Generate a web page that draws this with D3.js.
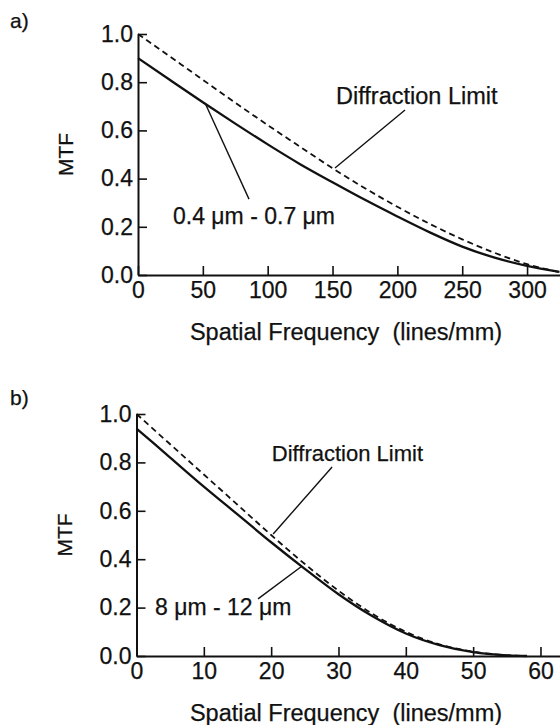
<!DOCTYPE html>
<html>
<head>
<meta charset="utf-8">
<script src="https://cdn.jsdelivr.net/npm/d3@7"></script>
<style>
  body { margin: 0; background: #fff; }
  text { font-family: "Liberation Sans", Arial, Helvetica, sans-serif; fill: #111; stroke: #111; stroke-width: 0.25px; }
</style>
</head>
<body>
<script>
"use strict"

// panel a: visible 0.4 - 0.7 um
var freqA = [0, 25, 50, 75, 100, 125, 150, 175, 200, 225, 250, 275, 300, 325];
var diffA = [1.0, 0.905, 0.81, 0.715, 0.622, 0.532, 0.443, 0.36, 0.283, 0.212, 0.148, 0.092, 0.045, 0.012];
var measA = [0.90, 0.808, 0.717, 0.628, 0.542, 0.46, 0.385, 0.312, 0.243, 0.177, 0.118, 0.072, 0.038, 0.013];
var ticksA = [0, 50, 100, 150, 200, 250, 300];

// panel b: thermal 8 - 12 um
var freqB = [0, 5, 10, 15, 20, 25, 30, 35, 40, 45, 50, 55, 58];
var diffB = [1.0, 0.875, 0.75, 0.625, 0.50, 0.38, 0.27, 0.175, 0.10, 0.048, 0.018, 0.003, 0.0];
var measB = [0.94, 0.82, 0.70, 0.585, 0.47, 0.36, 0.255, 0.165, 0.093, 0.045, 0.016, 0.003, 0.0];
var ticksB = [0, 10, 20, 30, 40, 50, 60];

var mtfTicks = [0, 0.2, 0.4, 0.6, 0.8, 1.0];

var width = 560, height = 725;

var svg = d3.select("body").append("svg")
    .attr("width", width)
    .attr("height", height);

function drawPanel(p) {
    var x = d3.scaleLinear().domain([0, p.xMax]).range([p.left, width]);
    var y = d3.scaleLinear().domain([0, 1]).range([p.bottom, p.top]);
    var g = svg.append("g");

    var xAxis = g.append("g")
        .attr("transform", "translate(0," + p.bottom + ")")
        .call(d3.axisBottom(x).tickValues(p.ticks).tickSize(-9).tickSizeOuter(0).tickPadding(7));
    var yAxis = g.append("g")
        .attr("transform", "translate(" + p.left + ",0)")
        .call(d3.axisLeft(y).tickValues(mtfTicks).tickFormat(d3.format(".1f")).tickSize(-9).tickSizeOuter(0).tickPadding(5));

    [xAxis, yAxis].forEach(function(a) {
        a.select(".domain").attr("stroke", "#111").attr("stroke-width", 2);
        a.selectAll(".tick line").attr("stroke", "#111").attr("stroke-width", 1.6);
        a.selectAll(".tick text")
            .attr("font-family", "Liberation Sans, Arial, sans-serif")
            .attr("font-size", 23)
            .attr("fill", "#111");
    });

    var line = d3.line()
        .x(function(d) { return x(d[0]); })
        .y(function(d) { return y(d[1]); })
        .curve(d3.curveMonotoneX);

    g.append("path")
        .datum(d3.zip(p.freq, p.diff))
        .attr("fill", "none")
        .attr("stroke", "#111")
        .attr("stroke-width", 1.8)
        .attr("stroke-dasharray", "6,4")
        .attr("d", line);

    g.append("path")
        .datum(d3.zip(p.freq, p.meas))
        .attr("fill", "none")
        .attr("stroke", "#111")
        .attr("stroke-width", 2.3)
        .attr("d", line);

    // annotations with leader lines (data coords)
    p.notes.forEach(function(n) {
        g.append("line")
            .attr("x1", x(n.from[0])).attr("y1", y(n.from[1]))
            .attr("x2", x(n.to[0])).attr("y2", y(n.to[1]))
            .attr("stroke", "#111")
            .attr("stroke-width", 1.4);
        g.append("text")
            .attr("x", x(n.at[0]))
            .attr("y", y(n.at[1]))
            .attr("font-size", n.size)
            .style("white-space", "pre")
            .text(n.text);
    });

    g.append("text")
        .attr("x", 10)
        .attr("y", p.tag)
        .attr("font-size", 21)
        .text(p.label);

    g.append("text")
        .attr("transform", "translate(" + (p.left - 65) + "," + y(0.5) + ") rotate(-90)")
        .attr("text-anchor", "middle")
        .attr("font-size", 21)
        .text("MTF");

    g.append("text")
        .attr("x", 346)
        .attr("y", p.bottom + 65)
        .attr("text-anchor", "middle")
        .attr("font-size", 23.5)
        .style("white-space", "pre")
        .text("Spatial Frequency  (lines/mm)");
}

drawPanel({
    label: "a)", tag: 28,
    left: 138, top: 34, bottom: 275, xMax: 325.4,
    ticks: ticksA, freq: freqA, diff: diffA, meas: measA,
    notes: [
        {text: "Diffraction Limit", size: 23.5, at: [152.7, 0.71], from: [205.9, 0.685], to: [151.9, 0.444]},
        {text: "0.4 \u03bcm - 0.7 \u03bcm", size: 23, at: [27, 0.212], from: [85.6, 0.315], to: [51.7, 0.714]}
    ]
});

drawPanel({
    label: "b)", tag: 405,
    left: 136.5, top: 414, bottom: 656, xMax: 62.9,
    ticks: ticksB, freq: freqB, diff: diffB, meas: measB,
    notes: [
        {text: "Diffraction Limit", size: 22, at: [20.1, 0.806], from: [29.05, 0.781], to: [20.3, 0.504]},
        {text: "8 \u03bcm - 12 \u03bcm", size: 23, at: [2.75, 0.169], from: [18.05, 0.236], to: [24.6, 0.372]}
    ]
});
</script>
</body>
</html>
